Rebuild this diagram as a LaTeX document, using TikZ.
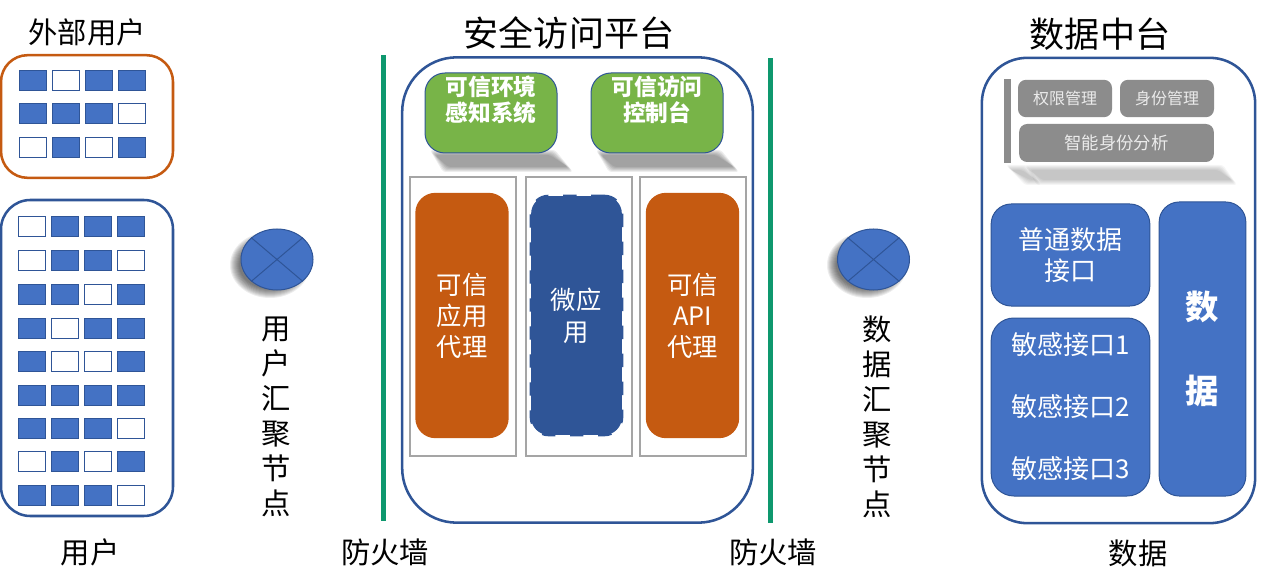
\documentclass[tikz,border=0pt]{standalone}
\usepackage{fontspec}
\setmainfont{Noto Sans CJK SC}
\usetikzlibrary{shapes.geometric}

\definecolor{blueline}{RGB}{47,85,151}
\definecolor{bluefill}{RGB}{68,114,196}
\definecolor{orangefill}{RGB}{197,90,17}
\definecolor{greenfill}{RGB}{120,180,72}
\definecolor{wallgreen}{RGB}{14,152,110}
\definecolor{grayfill}{RGB}{140,140,140}
\definecolor{frameline}{RGB}{165,165,165}

\tikzset{every picture/.style={line width=0.75pt}}
\tikzset{
	cell/.style={draw=blueline,line width=0.75pt,minimum width=20.25pt,minimum height=15pt,inner sep=0pt},
	cell0/.style={cell,fill=white},
	cell1/.style={cell,fill=bluefill},
	bigbox/.style={draw=blueline,line width=1.9pt,fill=white,inner sep=0pt},
	solidbox/.style={draw=blueline,line width=0.75pt,fill=bluefill,text=white,inner sep=0pt,align=center},
	greenbox/.style={solidbox,fill=greenfill,rounded corners=15pt},
	orangebox/.style={fill=orangefill,inner sep=0pt,rounded corners=15pt,minimum width=70pt,minimum height=184pt},
	framebox/.style={draw=frameline,line width=1.1pt,minimum width=79.5pt,minimum height=209pt,inner sep=0pt},
	graybox/.style={fill=grayfill,text=white!92!black,rounded corners=6pt,inner sep=0pt},
	hub/.style={ellipse,draw=blueline,fill=bluefill,minimum width=54pt,minimum height=45.75pt,inner sep=0pt},
	wall/.style={fill=wallgreen,minimum width=4pt,inner sep=0pt},
	caption/.style={font=\fontsize{22}{26.25}\selectfont,align=center,inner sep=0pt},
	title/.style={font=\fontsize{26.3}{30}\selectfont,inner sep=0pt},
	boldtext/.style={font=\fontsize{17}{19.5}\selectfont\bfseries,text=white,align=center,inner sep=0pt},
	innertext/.style={font=\fontsize{19}{23.5}\selectfont,text=white,align=center,inner sep=0pt}
}
% blurred gray shade: #1 top left, #2 top right, #3 bottom left, #4 bottom right, #5 top, #6 bottom, #7 opacity
\newcommand{\softshade}[7]{
	\foreach \k in {0,...,5}{
		\fill[black,opacity=#7,rounded corners=2pt] (#1-\k,#5-\k) -- (#2+\k,#5-\k) -- (#4+\k,#6+\k) -- (#3-\k,#6+\k) -- cycle;
	}
}
% blurred gray shade of a hub
\newcommand{\hubshade}[2]{
	\foreach \k in {0,...,9}{
		\fill[black,opacity=0.07] (#1,#2) ellipse [x radius=31+\k, y radius=24+\k];
	}
}

\begin{document}
\begin{tikzpicture}[x=0.75pt,y=0.75pt,yscale=-1,xscale=1]
	\useasboundingbox (0,0) rectangle (1268,588);

	% Users
	\node (extbox) [bigbox,draw=orangefill,rounded corners=20pt,minimum width=129pt,minimum height=92pt] at (87,116.5) {};
	\node (userbox) [bigbox,rounded corners=22pt,minimum width=129pt,minimum height=237pt] at (87,358) {};
	\foreach \rowy/\pattern in {81/{1,0,1,1},114/{1,1,1,0},148/{0,1,0,1}}{
		\foreach \full [count=\i from 0] in \pattern{
			\node (ext\rowy-\i) [cell\full] at (32.5+33*\i,\rowy) {};
		}
	}
	\foreach \rowy/\pattern in {227/{0,1,1,1},261/{0,1,1,0},294/{1,1,0,1},328/{1,0,1,1},361/{1,0,0,1},395/{1,1,1,1},428/{1,1,1,0},461/{0,1,0,1},495/{1,1,1,0}}{
		\foreach \full [count=\i from 0] in \pattern{
			\node (user\rowy-\i) [cell\full] at (31.5+33*\i,\rowy) {};
		}
	}

	% Hubs
	\hubshade{270}{265}
	\node (userhub) [hub] at (277,259.5) {};
	\draw[blueline] (userhub.north west) -- (userhub.south east);
	\draw[blueline] (userhub.north east) -- (userhub.south west);
	\hubshade{867}{265}
	\node (datahub) [hub] at (873.5,259.5) {};
	\draw[blueline] (datahub.north west) -- (datahub.south east);
	\draw[blueline] (datahub.north east) -- (datahub.south west);

	% Firewalls
	\node (wallleft) [wall,minimum height=349pt] at (383.5,288) {};
	\node (wallright) [wall,minimum height=349pt] at (770.5,290.5) {};

	% Platform
	\node (platform) [bigbox,rounded corners=41pt,minimum width=263pt,minimum height=349pt] at (577.5,290) {};
	\softshade{435}{550}{448}{568}{155}{167}{0.07}
	\softshade{601}{716}{614}{734}{155}{167}{0.07}
	\node (envbox) [greenbox,minimum width=99pt,minimum height=60pt] at (491,113) {};
	\node (consolebox) [greenbox,minimum width=99pt,minimum height=60pt] at (657,113) {};
	\node (envtext) [boldtext] at (491,100) {可信环境\\感知系统};
	\node (consoletext) [boldtext] at (657,100) {可信访问\\控制台};
	\node (frameapp) [framebox] at (463,316.5) {};
	\node (framemicro) [framebox] at (579,316.5) {};
	\node (frameapi) [framebox] at (693,316.5) {};
	\node (appproxy) [orangebox] at (462,315.5) {};
	\node (appproxytext) [innertext] at (462,316) {可信\\应用\\代理};
	\node (microapp) [fill=blueline,draw=blueline,line width=2.2pt,dash pattern=on 10pt off 11pt,rounded corners=13pt,minimum width=68pt,minimum height=179pt,inner sep=0pt] at (576.5,315.5) {};
	\node (microtext) [innertext] at (576,316) {微应\\用};
	\node (apiproxy) [orangebox] at (692.5,315.5) {};
	\node (apiproxytext) [innertext] at (692.5,316) {可信\\API\\代理};

	% Data
	\node (databox) [bigbox,rounded corners=34pt,minimum width=205pt,minimum height=349pt] at (1118.5,290.5) {};
	\softshade{1011}{1022}{1030}{1036}{170}{180}{0.04}
	\softshade{1030}{1218}{1042}{1232}{170}{180}{0.04}
	\node (sidebar) [fill=grayfill,minimum width=5pt,minimum height=63pt,inner sep=0pt] at (1007.5,121) {};
	\node (rightsbox) [graybox,minimum width=70.5pt,minimum height=28pt,font=\fontsize{12}{14}\selectfont] at (1065,98.5) {权限管理};
	\node (identbox) [graybox,minimum width=70.5pt,minimum height=28pt,font=\fontsize{12}{14}\selectfont] at (1167,98.5) {身份管理};
	\node (smartbox) [graybox,minimum width=146pt,minimum height=28.5pt,font=\fontsize{13}{15}\selectfont] at (1116.5,143) {智能身份分析};
	\node (plainapi) [solidbox,rounded corners=15pt,minimum width=119pt,minimum height=76.5pt,font=\fontsize{19.5}{23.5}\selectfont] at (1070.5,255) {普通数据\\接口};
	\node (secretapi) [solidbox,rounded corners=17pt,minimum width=119pt,minimum height=133.5pt,font=\fontsize{19.5}{46.5}\selectfont] at (1070.5,407) {敏感接口1\\敏感接口2\\敏感接口3};
	\node (datacol) [solidbox,rounded corners=15pt,minimum width=65pt,minimum height=220.5pt,font=\fontsize{25}{63}\selectfont\bfseries] at (1202.5,349) {数\\据};

	% Text Node
	\node (exttitle) [caption] at (87,32) {外部用户};
	\node (usertitle) [caption] at (90,552) {用户};
	\node (userhubtext) [caption] at (276,417) {用\\户\\汇\\聚\\节\\点};
	\node (datahubtext) [caption] at (877,417) {数\\据\\汇\\聚\\节\\点};
	\node (wallleftname) [caption] at (385,552) {防火墙};
	\node (wallrightname) [caption] at (773,552) {防火墙};
	\node (datatitle) [caption] at (1138,553) {数据};
	\node (platformtitle) [title] at (569,33) {安全访问平台};
	\node (datacentre) [title] at (1100,34) {数据中台};
\end{tikzpicture}
\end{document}
